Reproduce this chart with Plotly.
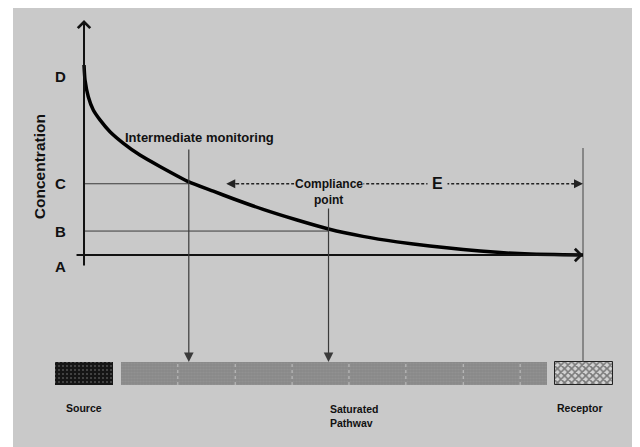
import plotly.graph_objects as go

# ---- data (distance along pathway 0..100, concentration units) ----
curve_dist = [0, 0.2, 0.86, 1.86, 3.2, 5.2, 7.9, 11.2, 15.2, 21, 25.9, 29.9, 35.9, 42.7,
              49, 55.9, 62.7, 69.3, 76, 82.8, 89.4, 100]
curve_conc = [10, 9.21, 8.33, 7.63, 7.11, 6.49, 5.88, 5.26, 4.66, 3.85, 3.36, 2.96, 2.40, 1.84,
              1.37, 0.98, 0.69, 0.47, 0.29, 0.14, 0.05, 0]

level_names = ["A", "B", "C", "D"]
level_values = [0, 1.26, 3.75, 10]

x_intermediate = 21
x_compliance = 49
x_receptor = 100

# ground strip (horizontal bars): start, end
source_span = [-5.8, 5.8]
pathway_span = [7.4, 92.8]
receptor_span = [94.4, 106.0]
pathway_cells = [18.8, 30.3, 41.7, 53.1, 64.5, 76.0, 87.4]

strip_y = -6.24
strip_h = 1.21
strip_top = strip_y + strip_h / 2

BG = "#c9c9c9"
INK = "#111111"
THIN = "#3a3a3a"
FONT = "Liberation Sans, Arial, sans-serif"

fig = go.Figure()

# strip bars
fig.add_trace(go.Bar(orientation="h", y=[strip_y], x=[source_span[1] - source_span[0]],
                     base=[source_span[0]], width=strip_h,
                     marker=dict(color="#151515", line=dict(width=0),
                                 pattern=dict(shape=".", fgcolor="#8a8a8a", bgcolor="#151515",
                                              size=4, solidity=0.2)),
                     hoverinfo="skip", showlegend=False))
fig.add_trace(go.Bar(orientation="h", y=[strip_y], x=[pathway_span[1] - pathway_span[0]],
                     base=[pathway_span[0]], width=strip_h,
                     marker=dict(color="#8c8c8c", line=dict(width=0),
                                 pattern=dict(shape=".", fgcolor="#9a9a9a", bgcolor="#898989",
                                              size=3, solidity=0.4)),
                     hoverinfo="skip", showlegend=False))
fig.add_trace(go.Bar(orientation="h", y=[strip_y], x=[receptor_span[1] - receptor_span[0]],
                     base=[receptor_span[0]], width=strip_h,
                     marker=dict(color="#cfcfcf", line=dict(width=1, color="#222"),
                                 pattern=dict(shape="x", fgcolor="#1e1e1e", bgcolor="#d4d4d4",
                                              size=5, solidity=0.55)),
                     hoverinfo="skip", showlegend=False))

# pathway cell separators
for xc in pathway_cells:
    fig.add_trace(go.Scatter(x=[xc, xc], y=[strip_y - strip_h / 2, strip_y + strip_h / 2],
                             mode="lines", line=dict(color="#c4c4c4", width=1, dash="dot"),
                             hoverinfo="skip", showlegend=False))

# reference level lines C and B
fig.add_trace(go.Scatter(x=[0, x_intermediate], y=[level_values[2]] * 2, mode="lines",
                         line=dict(color=THIN, width=1), hoverinfo="skip", showlegend=False))
fig.add_trace(go.Scatter(x=[0, x_compliance], y=[level_values[1]] * 2, mode="lines",
                         line=dict(color=THIN, width=1), hoverinfo="skip", showlegend=False))

# receptor vertical line
fig.add_trace(go.Scatter(x=[x_receptor, x_receptor], y=[5.63, strip_top], mode="lines",
                         line=dict(color="#444", width=1), hoverinfo="skip", showlegend=False))

# dashed distance line E
fig.add_trace(go.Scatter(x=[29.5, 99], y=[level_values[2]] * 2, mode="lines",
                         line=dict(color="#222", width=1.3, dash="3px,2px"),
                         hoverinfo="skip", showlegend=False))

# concentration curve
fig.add_trace(go.Scatter(x=curve_dist, y=curve_conc, mode="lines",
                         line=dict(color="#000", width=3.5, shape="spline", smoothing=0.5),
                         hoverinfo="skip", showlegend=False))

ann = []
# axes arrows
ann.append(dict(x=0, y=12.37, ax=0, ay=-0.63, xref="x", yref="y", axref="x", ayref="y",
                text="", showarrow=True, arrowhead=4, arrowwidth=2, arrowsize=1.2,
                arrowcolor=INK, standoff=0))
ann.append(dict(x=100, y=0, ax=-1.8, ay=0, xref="x", yref="y", axref="x", ayref="y",
                text="", showarrow=True, arrowhead=4, arrowwidth=2, arrowsize=1.2,
                arrowcolor=INK, standoff=0))
# monitoring arrows down to strip
ann.append(dict(x=x_intermediate, y=strip_top, ax=x_intermediate, ay=5.63, xref="x", yref="y",
                axref="x", ayref="y", text="", showarrow=True, arrowhead=2, arrowwidth=1.2,
                arrowsize=1.6, arrowcolor=THIN, standoff=0))
ann.append(dict(x=x_compliance, y=strip_top, ax=x_compliance, ay=2.53, xref="x", yref="y",
                axref="x", ayref="y", text="", showarrow=True, arrowhead=2, arrowwidth=1.2,
                arrowsize=1.6, arrowcolor=THIN, standoff=0))
# dashed line arrow heads
ann.append(dict(x=28.5, y=level_values[2], ax=31, ay=level_values[2], xref="x", yref="y",
                axref="x", ayref="y", text="", showarrow=True, arrowhead=2, arrowwidth=1.2,
                arrowsize=1.5, arrowcolor="#222", standoff=0))
ann.append(dict(x=100, y=level_values[2], ax=97.5, ay=level_values[2], xref="x", yref="y",
                axref="x", ayref="y", text="", showarrow=True, arrowhead=2, arrowwidth=1.2,
                arrowsize=1.5, arrowcolor="#222", standoff=0))

# level letters
for name, val in zip(level_names, level_values):
    yy = val - 0.63 if name == "A" else val + (-0.6 if name == "D" else 0)
    ann.append(dict(x=-4.8, y=yy, xref="x", yref="y", text=name, showarrow=False,
                    font=dict(family=FONT, size=15, color=INK, weight="bold")))

# texts
ann.append(dict(x=-9.0, y=4.63, xref="x", yref="y", text="Concentration", textangle=-90,
                showarrow=False, font=dict(family=FONT, size=15.5, color=INK, weight="bold")))
ann.append(dict(x=23.2, y=6.21, xref="x", yref="y", text="Intermediate monitoring",
                showarrow=False, font=dict(family=FONT, size=13, color=INK, weight="bold")))
ann.append(dict(x=x_compliance, y=3.75, xref="x", yref="y", text="Compliance",
                showarrow=False, bgcolor=BG, borderpad=0,
                font=dict(family=FONT, size=12, color=INK, weight="bold")))
ann.append(dict(x=x_compliance, y=2.89, xref="x", yref="y", text="point",
                showarrow=False, font=dict(family=FONT, size=12, color=INK, weight="bold")))
ann.append(dict(x=70.9, y=3.75, xref="x", yref="y", text="E", showarrow=False,
                bgcolor=BG, borderpad=4,
                font=dict(family=FONT, size=16, color=INK, weight="bold")))
ann.append(dict(x=0, y=-8.05, xref="x", yref="y", text="Source", showarrow=False,
                font=dict(family=FONT, size=10.5, color=INK, weight="bold")))
ann.append(dict(x=x_compliance - 0.2, y=-8.45, xref="x", yref="y", text="Saturated<br>Pathwav",
                showarrow=False, align="left", xanchor="left",
                font=dict(family=FONT, size=10.5, color=INK, weight="bold")))
ann.append(dict(x=receptor_span[0], y=-8.05, xref="x", yref="y", text="Receptor",
                showarrow=False, xanchor="left",
                font=dict(family=FONT, size=10.5, color=INK, weight="bold")))

# page body adds an 8px margin, so the figure is 8px smaller and shifted
fig.update_layout(
    width=632, height=439,
    margin=dict(l=5, r=0, t=0, b=0),
    paper_bgcolor="white", plot_bgcolor=BG,
    barmode="overlay", bargap=0,
    showlegend=False,
    annotations=ann,
    xaxis=dict(range=[-14.23, 111.42], visible=False, fixedrange=True),
    yaxis=dict(range=[-10.105, 13.0], visible=False, fixedrange=True),
)

fig.write_html("out.html")
